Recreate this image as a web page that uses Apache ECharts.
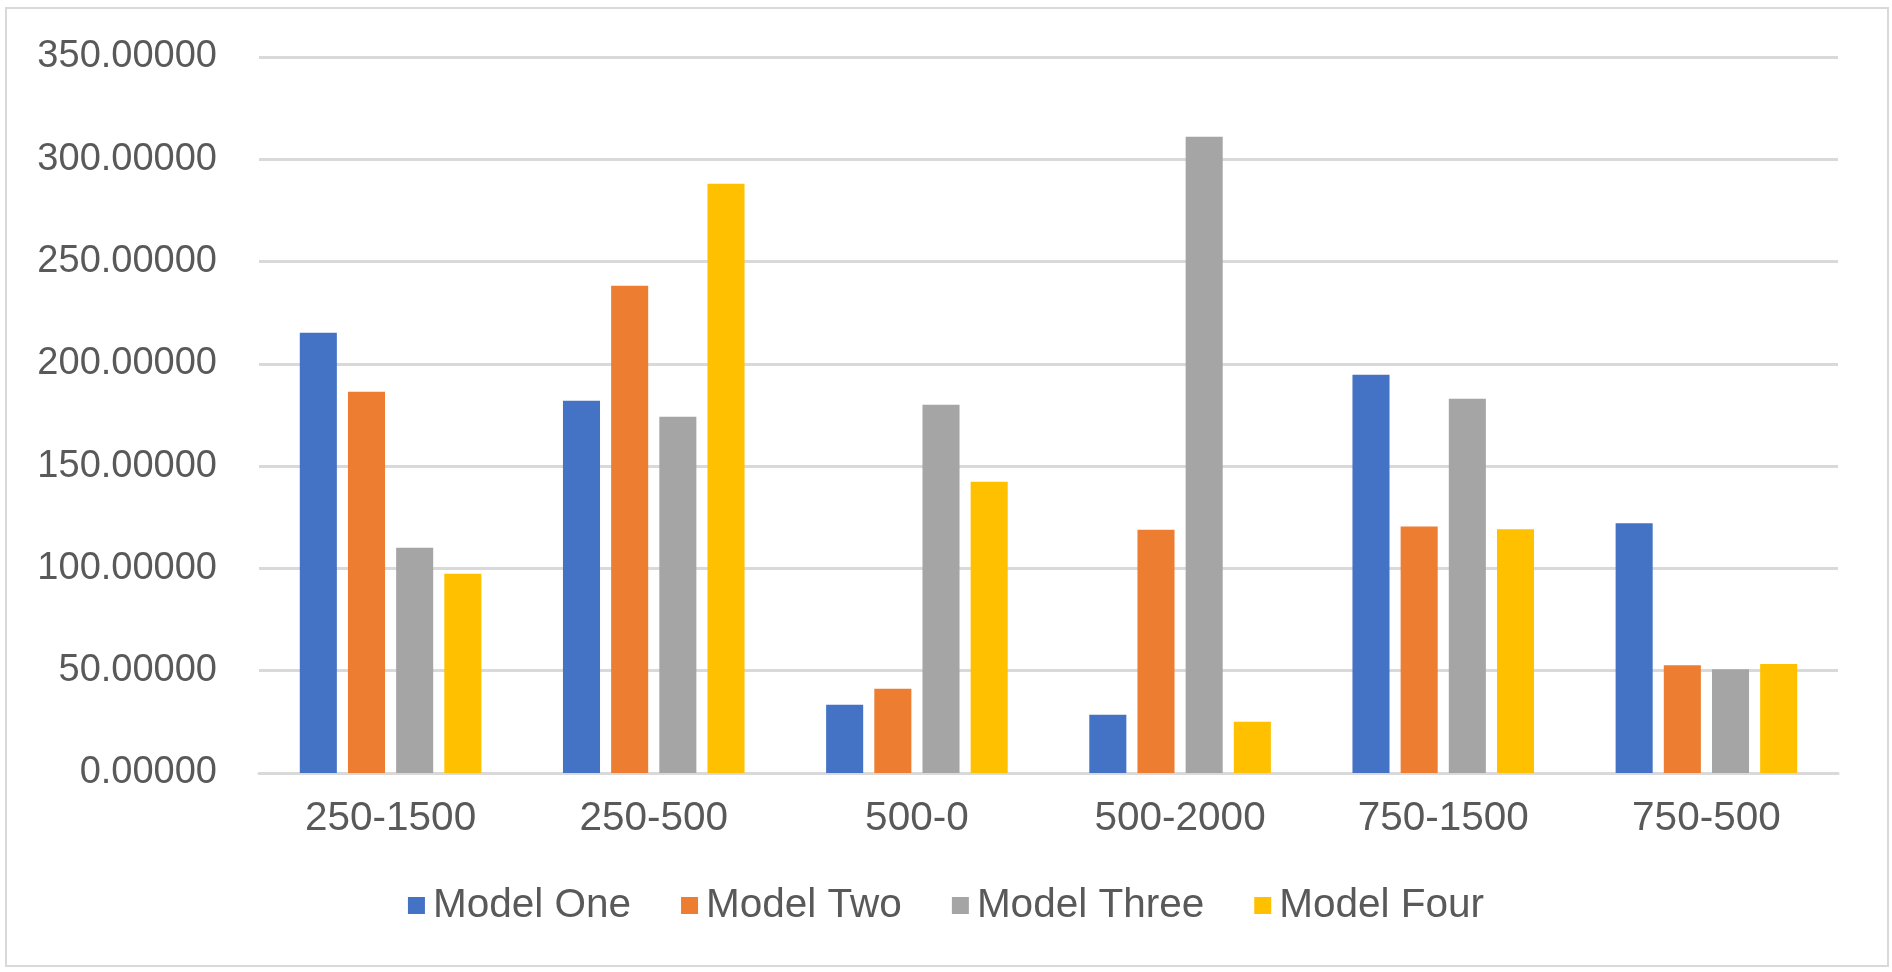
<!DOCTYPE html>
<html>
<head>
<meta charset="utf-8">
<script src="https://cdn.jsdelivr.net/npm/echarts@6/dist/echarts.min.js"></script>
<style>
html,body{margin:0;padding:0;background:#fff;}
#chart{width:1892px;height:972px;}
</style>
</head>
<body>
<div id="chart"></div>
<script>
const categories = ['250-1500', '250-500', '500-0', '500-2000', '750-1500', '750-500'];
const modelOne = [215.2, 182.0, 33.4, 28.5, 194.7, 122.1];
const modelTwo = [186.4, 238.2, 41.2, 118.9, 120.5, 52.7];
const modelThree = [110.1, 174.1, 180.0, 311.0, 183.0, 50.7];
const modelFour = [97.4, 288.0, 142.4, 25.1, 119.2, 53.3];
const seriesNames = ['Model One', 'Model Two', 'Model Three', 'Model Four'];
const colors = ['#4472C4', '#ED7D31', '#A5A5A5', '#FFC000'];

const chart = echarts.init(document.getElementById('chart'));
const font = 'Liberation Sans, Arial, sans-serif';
const data = [modelOne, modelTwo, modelThree, modelFour];
chart.setOption({
  animation: false,
  color: colors,
  graphic: [{
    type: 'rect',
    shape: {x: 6, y: 8, width: 1882, height: 958},
    style: {fill: 'none', stroke: '#d9d9d9', lineWidth: 2},
    silent: true
  }],
  grid: {left: 259, right: 54, top: 57, bottom: 199},
  legend: {
    data: seriesNames,
    top: 880,
    left: 'center',
    itemWidth: 17,
    itemHeight: 17,
    itemGap: 50,
    icon: 'rect',
    textStyle: {fontFamily: font, fontSize: 40.5, color: '#595959', padding: [0, 0, 0, 3]}
  },
  xAxis: {
    type: 'category',
    data: categories,
    axisLine: {show: true, lineStyle: {color: '#d9d9d9', width: 3}},
    axisTick: {show: false},
    axisLabel: {fontFamily: font, fontSize: 40.5, color: '#595959', margin: 25}
  },
  yAxis: {
    type: 'value',
    min: 0,
    max: 350,
    interval: 50,
    axisLine: {show: false},
    axisTick: {show: false},
    splitLine: {lineStyle: {color: '#d9d9d9', width: 3}},
    axisLabel: {
      fontFamily: font, fontSize: 38, color: '#595959', margin: 42,
      formatter: v => v.toFixed(5)
    }
  },
  series: seriesNames.map((n, i) => ({
    name: n,
    type: 'bar',
    data: data[i],
    barGap: '30%',
    barCategoryGap: '31%',
    itemStyle: {color: colors[i]}
  }))
});
</script>
</body>
</html>
